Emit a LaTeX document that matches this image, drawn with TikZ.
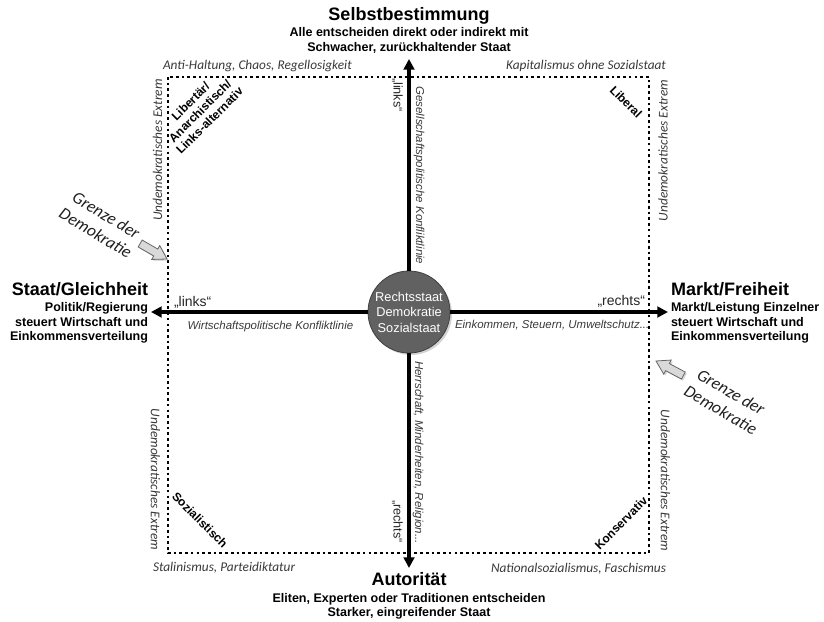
\documentclass[tikz,border=0pt]{standalone}
\usepackage{fontspec}
\setmainfont{Liberation Sans}
\newfontfamily\carl{Carlito}
\usetikzlibrary{arrows.meta,shadows}
\begin{document}
\begin{tikzpicture}[x=0.75pt,y=-0.75pt,
  every node/.style={inner sep=0pt,outer sep=0pt},
  title/.style={font=\bfseries\fontsize{13.5}{16}\selectfont},
  subt/.style={font=\bfseries\fontsize{9.4}{11}\selectfont},
  corner/.style={font=\carl\itshape\fontsize{10}{12}\selectfont,text=black!78},
  grenze/.style={font=\carl\itshape\fontsize{12.8}{15.4}\selectfont,align=center,text=black!88},
  axlab/.style={font=\itshape\fontsize{8.6}{10}\selectfont,text=black!78},
  hquote/.style={font=\fontsize{10.5}{12}\selectfont,text=black!85},
  vquote/.style={font=\fontsize{9.5}{11}\selectfont,text=black!85},
  quad/.style={font=\bfseries\fontsize{9}{10.1}\selectfont,align=center},
  core/.style={circle,fill=black!62,draw=black!75,line width=0.6pt,minimum size=61.5pt,
    text=white,font=\fontsize{9.6}{11.6}\selectfont,align=center,
    drop shadow={opacity=0.35,shadow xshift=1.5pt,shadow yshift=-1.5pt}},
  axis/.style={line width=2.8pt,-{Triangle[width=8pt,length=8pt]}},
  border/.style={line width=2pt,dash pattern=on 2pt off 2.3pt},
  grayarrow/.style={fill=black!15,draw=black!60,line width=0.6pt,line join=miter,
    drop shadow={opacity=0.3,shadow xshift=1.2pt,shadow yshift=-1.2pt}}
]
\useasboundingbox (0,0) rectangle (824,621);

% dotted border of democracy
\draw[border] (168,77) rectangle (649,553);

% centre and axes
\node[core] (c) at (409,312) {Rechtsstaat\\Demokratie\\Sozialstaat};
\coordinate (top) at (409,59);
\coordinate (bot) at (409,568);
\coordinate (lft) at (151,312);
\coordinate (rgt) at (668,312);
\draw[axis] (c.north) -- (top);
\draw[axis] (c.south) -- (bot);
\draw[axis] (c.west) -- (lft);
\draw[axis] (c.east) -- (rgt);

% top block
\node[title,anchor=base] (selbst) at (409,20.7) {Selbstbestimmung};
\node[subt,anchor=base] (selbst1) at (409,36.7) {Alle entscheiden direkt oder indirekt mit};
\node[subt,anchor=base] (selbst2) at (409,51.7) {Schwacher, zurückhaltender Staat};

% left block
\node[title,anchor=base east] (staat) at (148,295) {Staat/Gleichheit};
\node[subt,anchor=base east] (staat1) at (148,311.5) {Politik/Regierung};
\node[subt,anchor=base east] (staat2) at (148,326) {steuert Wirtschaft und};
\node[subt,anchor=base east] (staat3) at (148,340.5) {Einkommensverteilung};

% right block
\node[title,anchor=base west] (markt) at (671,295) {Markt/Freiheit};
\node[subt,anchor=base west] (markt1) at (671,311.5) {Markt/Leistung Einzelner};
\node[subt,anchor=base west] (markt2) at (671,326) {steuert Wirtschaft und};
\node[subt,anchor=base west] (markt3) at (671,340.5) {Einkommensverteilung};

% bottom block
\node[title,anchor=base] (auto) at (409,585) {Autorität};
\node[subt,anchor=base] (auto1) at (409,602.5) {Eliten, Experten oder Traditionen entscheiden};
\node[subt,anchor=base] (auto2) at (409,616) {Starker, eingreifender Staat};

% corner labels
\node[corner,anchor=base west] (anti) at (163,69) {Anti-Haltung, Chaos, Regellosigkeit};
\node[corner,anchor=base east] (kapi) at (666,69.5) {Kapitalismus ohne Sozialstaat};
\node[corner,anchor=base west] (stal) at (153,571.5) {Stalinismus, Parteidiktatur};
\node[corner,anchor=base east] (nazi) at (666,572) {Nationalsozialismus, Faschismus};

\node[corner,rotate=90] (ext1) at (157.5,150) {Undemokratisches Extrem};
\node[corner,rotate=90] (ext2) at (663,150.5) {Undemokratisches Extrem};
\node[corner,rotate=-90] (ext3) at (155.5,479.5) {Undemokratisches Extrem};
\node[corner,rotate=-90] (ext4) at (665.5,480.5) {Undemokratisches Extrem};

% quadrant labels
\node[quad,rotate=45] (lib) at (200,111) {Libertär/\\Anarchistisch/\\Links-alternativ};
\node[quad,rotate=-45] (liberal) at (626,102) {Liberal};
\node[quad,rotate=-45] (soz) at (200,520) {Sozialistisch};
\node[quad,rotate=45] (kons) at (621,523) {Konservativ};

% axis labels
\node[vquote,rotate=-90] (vl) at (397.5,95) {„links“};
\node[axlab,rotate=-90] (ges) at (419,175.5) {Gesellschaftspolitische Konfliktlinie};
\node[axlab,rotate=-90] (her) at (418,452.5) {Herrschaft, Minderheiten, Religion...};
\node[vquote,rotate=-90] (vr) at (397.5,521.5) {„rechts“};
\node[hquote,anchor=base west] (hl) at (174,306) {„links“};
\node[hquote,anchor=base east] (hr) at (645,305) {„rechts“};
\node[axlab,anchor=base] (wirt) at (270.5,329) {Wirtschaftspolitische Konfliktlinie};
\node[axlab,anchor=base west] (eink) at (455,328.3) {Einkommen, Steuern, Umweltschutz...};

% Grenze der Demokratie
\node[grenze,rotate=-31] (gr1) at (101,224) {Grenze der\\Demokratie};
\node[grenze,rotate=-30] (gr2) at (726,401) {Grenze der\\Demokratie};

\coordinate (tipl) at (167,259);
\coordinate (tipr) at (656,361);
\begin{scope}[shift={(tipl)},rotate=-30]
  \draw[grayarrow] (0,0) -- (-13,-8) -- (-13,-4) -- (-31,-4) -- (-31,4) -- (-13,4) -- (-13,8) -- cycle;
\end{scope}
\begin{scope}[shift={(tipr)},rotate=152]
  \draw[grayarrow] (0,0) -- (-13,-8) -- (-13,-4) -- (-31,-4) -- (-31,4) -- (-13,4) -- (-13,8) -- cycle;
\end{scope}
\end{tikzpicture}
\end{document}
